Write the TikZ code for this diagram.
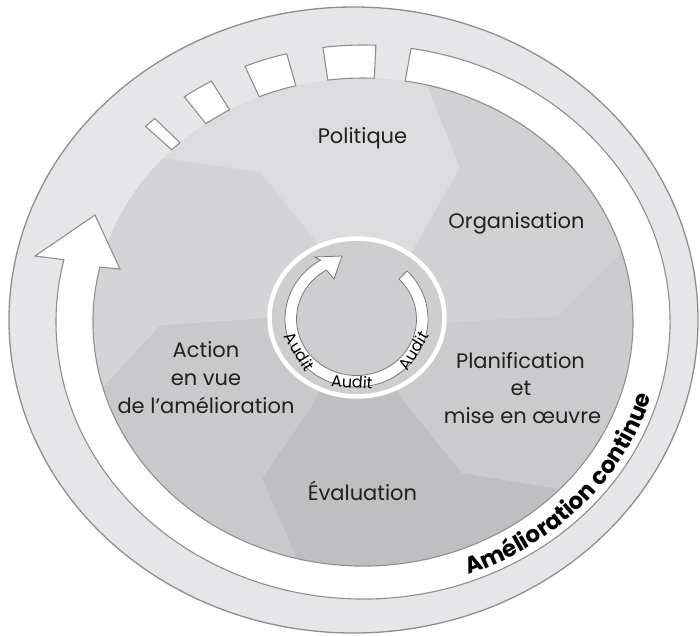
\documentclass[tikz,border=0pt]{standalone}
\usepackage{fontspec}
\setmainfont{Poppins}
\usetikzlibrary{calc,decorations.text}
\definecolor{bandgray}{HTML}{E6E6E8}
\definecolor{edgegray}{HTML}{8E8E90}
\definecolor{secPol}{HTML}{DCDCDE}
\definecolor{secOrg}{HTML}{D1D1D3}
\definecolor{secPla}{HTML}{CBCBCD}
\definecolor{secEva}{HTML}{BEBFC1}
\definecolor{secAct}{HTML}{C9C9CB}
\definecolor{secUL}{HTML}{D4D4D6}
\definecolor{coreg}{HTML}{CECED0}
\definecolor{txt}{HTML}{231F20}
\newcommand\bandblock[2]{%
  \filldraw[fill=white, edge]
    ($(D)+(#1:307pt and 277pt)$) arc[start angle=#1, end angle=#2, x radius=307pt, y radius=277pt]
    -- ($(D)+(#2:270pt and 244pt)$) arc[start angle=#2, end angle=#1, x radius=270pt, y radius=244pt]
    -- cycle;}
\tikzset{
  edge/.style={draw=edgegray, line width=1.1pt},
  lbl/.style={text=txt, font=\fontsize{21}{21}\selectfont, anchor=base, inner sep=0pt},
  auditlbl/.style={text=black, font=\fontsize{16}{16}\selectfont, inner sep=0pt},
}
\begin{document}
\begin{tikzpicture}[x=1pt, y=-1pt]
\useasboundingbox (0,0) rectangle (700,635);
\fill[white] (0,0) rectangle (700,635);
\coordinate (O) at (353.5,320);
\coordinate (D) at (363,322);
\coordinate (R) at (357,317.5);
\coordinate (A) at (356.5,319);
% outer band
\filldraw[fill=bandgray, draw=edgegray, line width=1.3pt] (O) ellipse [x radius=344.5pt, y radius=313pt];
% sector points
\coordinate (in1) at (315,240); \coordinate (b1) at (260,172); \coordinate (o1) at (162,158);
\coordinate (in2) at (413,250); \coordinate (b2) at (460,168); \coordinate (o2) at (427,85);
\coordinate (in3) at (446,322); \coordinate (b3) at (558,316); \coordinate (o3) at (620,253);
\coordinate (in4) at (403,400); \coordinate (b4) at (462,473); \coordinate (o4) at (555,488);
\coordinate (in5) at (310,408); \coordinate (b5) at (262,478); \coordinate (o5) at (295,555);
\coordinate (in6) at (265,318); \coordinate (b6) at (160,325); \coordinate (o6) at (103,387);
\foreach \i in {1,...,6} {\coordinate (f\i) at ($(D)!2.2!(o\i)$);}
\begin{scope}
  \clip (D) ellipse [x radius=270pt, y radius=244pt];
  \fill[secPol] (R)--(in1)--(b1)--(o1)--(f1)--(f2)--(o2)--(b2)--(in2)--cycle;
  \fill[secOrg] (R)--(in2)--(b2)--(o2)--(f2)--(f3)--(o3)--(b3)--(in3)--cycle;
  \fill[secPla] (R)--(in3)--(b3)--(o3)--(f3)--(f4)--(o4)--(b4)--(in4)--cycle;
  \fill[secEva] (R)--(in4)--(b4)--(o4)--(f4)--(f5)--(o5)--(b5)--(in5)--cycle;
  \fill[secAct] (R)--(in5)--(b5)--(o5)--(f5)--(f6)--(o6)--(b6)--(in6)--cycle;
  \fill[secUL]  (R)--(in6)--(b6)--(o6)--(f6)--(f1)--(o1)--(b1)--(in1)--cycle;
\end{scope}
% continuous improvement arrow band
\filldraw[fill=white, edge]
  ($(D)+(81:307pt and 277pt)$) arc[start angle=81, end angle=-193, x radius=307pt, y radius=277pt]
  -- (35,256) coordinate (barbL) -- (95,215) coordinate (tipC) -- (120,269) coordinate (barbR)
  -- ($(D)+(167:270pt and 244pt)$) arc[start angle=-193, end angle=81, x radius=270pt, y radius=244pt]
  -- cycle;
\bandblock{87.6}{97.5}
\bandblock{104.4}{112.6}
\bandblock{119.6}{125.6}
\bandblock{132.7}{135.1}
% audit core
\fill[coreg] (R) ellipse [x radius=87.5pt, y radius=79pt];
\draw[white, line width=4.5pt] (R) ellipse [x radius=87.5pt, y radius=79pt];
% audit arrow
\filldraw[fill=white, draw=edgegray!85!black, line width=0.8pt]
  ($(A)+(45:71.5pt and 68pt)$) arc[start angle=45, end angle=-240, x radius=71.5pt, y radius=68pt]
  -- (314.5,257) coordinate (aL) -- (342,256) coordinate (aT) -- (334,279) coordinate (aR)
  -- ($(A)+(120:60pt and 56.5pt)$) arc[start angle=-240, end angle=45, x radius=60pt, y radius=56.5pt]
  -- cycle;
\node[auditlbl, rotate=-58.6] (au1) at ($(A)+(-149:66pt and 63pt)$) {Audit};
\node[auditlbl, rotate=-3.8] (au2) at ($(A)+(-94:66pt and 63pt)$) {Audit};
\node[auditlbl, rotate=58.6] (au3) at ($(A)+(-30:66pt and 63pt)$) {Audit};
% labels
\node[lbl] (pol) at (362.5,143) {Politique};
\node[lbl] (org) at (516.5,228) {Organisation};
\node[lbl] (pla1) at (520.5,368) {Planification};
\node[lbl] (pla2) at (521,395) {et};
\node[lbl] (pla3) at (522.5,423) {mise en œuvre};
\node[lbl] (eva) at (362.5,500) {Évaluation};
\node[lbl] (act1) at (206,357) {Action};
\node[lbl] (act2) at (206,385) {en vue};
\node[lbl] (act3) at (206,413) {de l’amélioration};
% curved label
\path[decorate, decoration={text along path, text align=center,
    text={|\bfseries\fontsize{23}{23}\selectfont|Amélioration continue}}]
  ($(D)+(-92:300pt and 270pt)$) arc[start angle=-92, end angle=9, x radius=300pt, y radius=270pt];
\end{tikzpicture}
\end{document}
